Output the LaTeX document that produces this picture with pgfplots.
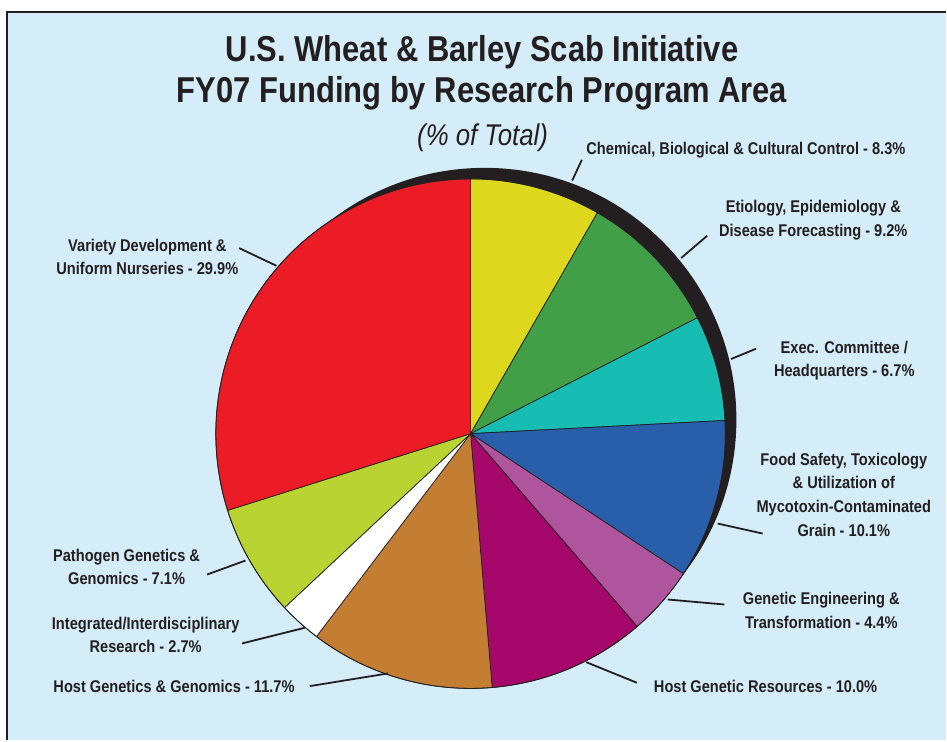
\documentclass[border=0pt]{standalone}
\usepackage{fontspec}
\setmainfont{Liberation Sans}[FakeStretch=0.86]
\usepackage{pgfplots}
\usepackage{pgfplotstable}
\pgfplotsset{compat=1.18}
\definecolor{bgblue}{RGB}{213,236,249}
\definecolor{txt}{RGB}{35,31,32}
\definecolor{cYellow}{RGB}{221,216,30}
\definecolor{cGreen}{RGB}{65,160,71}
\definecolor{cTeal}{RGB}{23,188,178}
\definecolor{cBlue}{RGB}{40,94,170}
\definecolor{cPink}{RGB}{174,85,158}
\definecolor{cMagenta}{RGB}{165,7,106}
\definecolor{cBrown}{RGB}{196,126,51}
\definecolor{cWhite}{RGB}{255,255,255}
\definecolor{cLime}{RGB}{185,212,50}
\definecolor{cRed}{RGB}{236,28,38}

\pgfplotstableread{
pct  color
8.3  cYellow
9.2  cGreen
6.7  cTeal
10.1 cBlue
4.4  cPink
10.0 cMagenta
11.7 cBrown
2.7  cWhite
7.1  cLime
29.9 cRed
}\pietable

\newcommand{\lbl}[3]{\node[anchor=base,inner sep=0pt,text=txt,font=\fontsize{17}{20}\selectfont\bfseries] at (axis cs:#1,#2) {#3};}

\begin{document}
\begin{tikzpicture}
\begin{axis}[
  scale only axis, width=947pt, height=741pt,
  xmin=0, xmax=947, ymin=0, ymax=741, y dir=reverse,
  enlargelimits=false, hide axis, clip=false]
% background and frame
\fill[white] (axis cs:0,0) rectangle (axis cs:947,741);
\fill[bgblue] (axis cs:7,12) rectangle (axis cs:947,741);
\draw[txt, line width=1.6pt] (axis cs:7,741) -- (axis cs:7,12) -- (axis cs:947,12);
% shadow
\fill[txt] (axis cs:485,420) circle[radius=252pt];
% slices
\def\cum{0}
\pgfplotsforeachungrouped \i in {0,...,9}{%
  \pgfplotstablegetelem{\i}{pct}\of\pietable \let\pv\pgfplotsretval
  \pgfplotstablegetelem{\i}{color}\of\pietable \let\cv\pgfplotsretval
  \pgfmathsetmacro\sa{90-3.596404*\cum}%
  \pgfmathsetmacro\ea{90-3.596404*(\cum+\pv)}%
  \edef\cmd{\noexpand\filldraw[fill=\cv, draw=txt, line width=0.7pt] (axis cs:471,434) -- ++(\sa:255pt) arc[start angle=\sa, end angle=\ea, radius=255pt] -- cycle;}%
  \cmd
  \pgfmathsetmacro\cum{\cum+\pv}%
}
\draw[txt, line width=0.8pt] (axis cs:471,434) circle[radius=255pt];
% leader lines
\begin{scope}[txt, line width=1.8pt]
\draw (axis cs:572.7,180.7) -- (axis cs:582.3,160);
\draw (axis cs:681.7,258.3) -- (axis cs:707.7,236);
\draw (axis cs:731.7,359.3) -- (axis cs:756.7,349);
\draw (axis cs:718.3,524) -- (axis cs:763.3,534);
\draw (axis cs:668.3,600) -- (axis cs:725,605);
\draw (axis cs:586.7,662.7) -- (axis cs:637.3,683.3);
\draw (axis cs:239.3,248.3) -- (axis cs:276.7,266);
\draw (axis cs:207.3,575) -- (axis cs:245.7,561);
\draw (axis cs:242.3,644) -- (axis cs:305,628.3);
\draw (axis cs:310,686.7) -- (axis cs:388.3,674);
\end{scope}
% titles
\node[anchor=base,inner sep=0pt,text=txt,font=\fontsize{36}{40}\selectfont\bfseries] at (axis cs:482.5,62) {U.S. Wheat \& Barley Scab Initiative};
\node[anchor=base,inner sep=0pt,text=txt,font=\fontsize{36}{40}\selectfont\bfseries] at (axis cs:482.5,103) {FY07 Funding by Research Program Area};
\node[anchor=base,inner sep=0pt,text=txt,font=\fontsize{30}{34}\selectfont\itshape] at (axis cs:483,146) {(\% of Total)};
% labels
\node[anchor=base west,inner sep=0pt,text=txt,font=\fontsize{17}{20}\selectfont\bfseries] at (axis cs:586.7,154.3) {Chemical, Biological \& Cultural Control - 8.3\%};
\lbl{814}{213}{Etiology, Epidemiology \&}
\lbl{814}{237}{Disease Forecasting - 9.2\%}
\lbl{845}{353.3}{Exec. Committee /}
\lbl{845}{376.7}{Headquarters - 6.7\%}
\lbl{844.5}{465.7}{Food Safety, Toxicology}
\lbl{844.5}{489.3}{\& Utilization of}
\lbl{844.5}{512.7}{Mycotoxin-Contaminated}
\lbl{844.5}{536.7}{Grain - 10.1\%}
\lbl{822}{605}{Genetic Engineering \&}
\lbl{822}{629}{Transformation - 4.4\%}
\node[anchor=base west,inner sep=0pt,text=txt,font=\fontsize{17}{20}\selectfont\bfseries] at (axis cs:654.3,693.3) {Host Genetic Resources - 10.0\%};
\lbl{147.5}{251.7}{Variety Development \&}
\lbl{147.5}{274.3}{Uniform Nurseries - 29.9\%}
\lbl{126.7}{561.7}{Pathogen Genetics \&}
\lbl{126.7}{585}{Genomics - 7.1\%}
\lbl{145.8}{630}{Integrated/Interdisciplinary}
\lbl{145.8}{653.3}{Research - 2.7\%}
\node[anchor=base west,inner sep=0pt,text=txt,font=\fontsize{17}{20}\selectfont\bfseries] at (axis cs:53.3,693.3) {Host Genetics \& Genomics - 11.7\%};
\end{axis}
\end{tikzpicture}
\end{document}
